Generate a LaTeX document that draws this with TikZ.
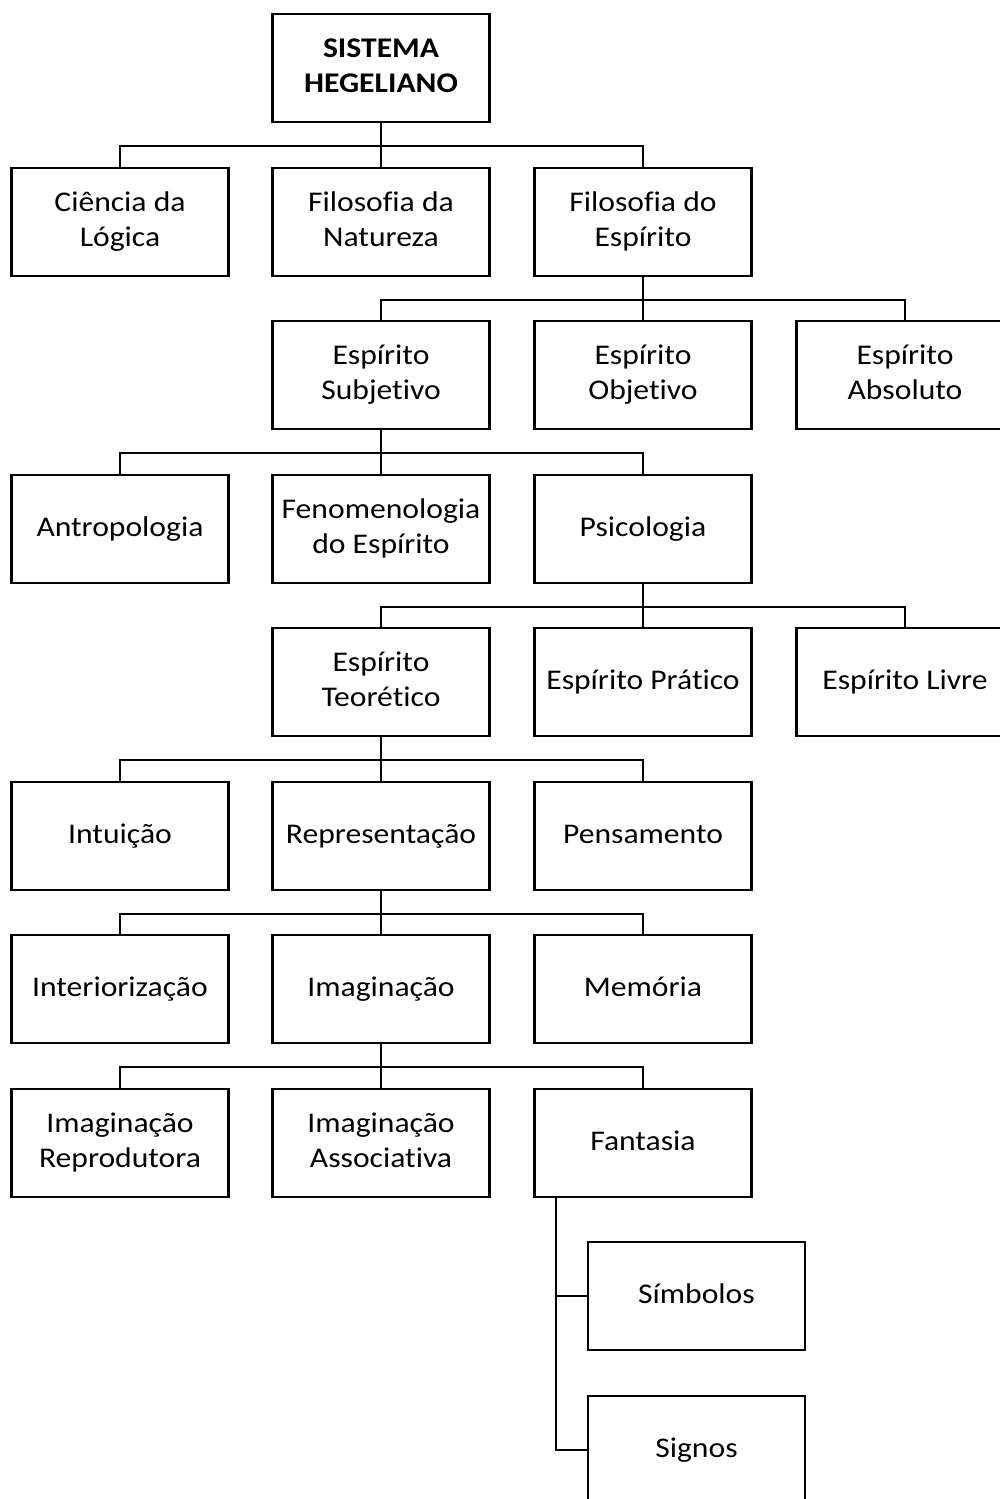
\documentclass[tikz,border=0pt]{standalone}
\usepackage{fontspec}
\setmainfont{Carlito}[FakeStretch=1.11, Ligatures={NoCommon}]
\begin{document}
\begin{tikzpicture}[x=1pt,y=-1pt,
  box/.style={draw, line width=2.2pt, minimum width=217pt, minimum height=108pt, align=center, inner sep=0pt,
    font=\fontsize{28.5}{35}\selectfont},
  topbox/.style={box, font=\fontsize{28.5}{35}\selectfont\bfseries},
  conn/.style={line width=2.2pt}]
\useasboundingbox (0,0) rectangle (999,1499);
\node[topbox] (sh) at (381,68) {SISTEMA\strut\\HEGELIANO\strut};
% row 1
\node[box] (cl) at (120,222) {Ciência da\strut\\Lógica\strut};
\node[box] (fn) at (381,222) {Filosofia da\strut\\Natureza\strut};
\node[box] (fe) at (643,222) {Filosofia do\strut\\Espírito\strut};
% row 2
\node[box] (es) at (381,375) {Espírito\strut\\Subjetivo\strut};
\node[box] (eo) at (643,375) {Espírito\strut\\Objetivo\strut};
\node[box] (ea) at (905,375) {Espírito\strut\\Absoluto\strut};
% row 3
\node[box] (an) at (120,529) {Antropologia\strut};
\node[box] (fd) at (381,529) {Fenomenologia\strut\\do Espírito\strut};
\node[box] (ps) at (643,529) {Psicologia\strut};
% row 4
\node[box] (et) at (381,682) {Espírito\strut\\Teorético\strut};
\node[box] (ep) at (643,682) {Espírito Prático\strut};
\node[box] (el) at (905,682) {Espírito Livre\strut};
% row 5
\node[box] (intu) at (120,836) {Intuição\strut};
\node[box] (re) at (381,836) {Representação\strut};
\node[box] (pe) at (643,836) {Pensamento\strut};
% row 6
\node[box] (it) at (120,989) {Interiorização\strut};
\node[box] (im) at (381,989) {Imaginação\strut};
\node[box] (me) at (643,989) {Memória\strut};
% row 7
\node[box] (ir) at (120,1143) {Imaginação\strut\\Reprodutora\strut};
\node[box] (ia) at (381,1143) {Imaginação\strut\\Associativa\strut};
\node[box] (fa) at (643,1143) {Fantasia\strut};
% rows 8-9
\node[box] (sm) at (696.5,1296) {Símbolos\strut};
\node[box] (sg) at (696.5,1450) {Signos\strut};
% connectors
\foreach \p/\c in {sh/cl, sh/fn, sh/fe,
                   fe/es, fe/eo, fe/ea,
                   es/an, es/fd, es/ps,
                   ps/et, ps/ep, ps/el,
                   et/intu, et/re, et/pe,
                   re/it, re/im, re/me,
                   im/ir, im/ia, im/fa}
  \draw[conn] (\p.south) -- ++(0,23) -| (\c.north);
\draw[conn] ([xshift=-87pt]fa.south) |- (sm.west);
\draw[conn] ([xshift=-87pt]fa.south) |- (sg.west);
\end{tikzpicture}
\end{document}
